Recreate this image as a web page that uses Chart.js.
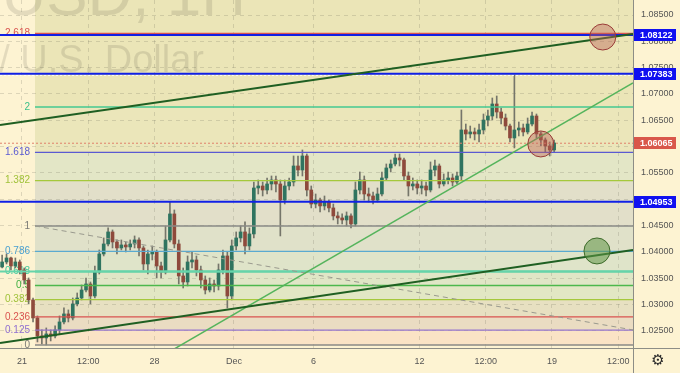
<!DOCTYPE html>
<html><head><meta charset="utf-8">
<script src="https://cdn.jsdelivr.net/npm/chart.js@4.4.0/dist/chart.umd.min.js"></script>
<style>
html,body{margin:0;padding:0;background:#fdf3d2;}
canvas{display:block;}
</style></head><body>
<canvas id="c" width="680" height="373"></canvas>
<script>
// ---------- DATA ----------
// 4h EUR/USD candles; x measured in trading days from Nov 21 00:00 (weekends collapsed)
const barHours = 4;
const firstBarIndex = -5;          // first bar = Nov 18 04:00
const firstOpen = 1.03715;
const closes = [
1.03810,1.03886,1.03734,1.03810,1.03658,
1.03468,1.03089,1.02747,1.02405,1.02367,1.02443,
1.02405,1.02519,1.02671,1.02823,1.02747,1.03013,
1.03126,1.03278,1.03392,1.03164,1.03620,1.03962,
1.04152,1.04380,1.04190,1.04076,1.04133,1.04095,
1.04152,1.04228,1.04076,1.03772,1.03962,1.04000,
1.03734,1.03620,1.04228,1.04722,1.04152,1.03544,
1.03430,1.03810,1.03848,1.03658,1.03468,1.03278,
1.03392,1.03354,1.03658,1.03924,1.03164,1.04114,
1.04266,1.04380,1.04114,1.04342,1.05215,1.05253,
1.05177,1.05291,1.05367,1.05291,1.04987,1.05253,
1.05329,1.05633,1.05557,1.05823,1.05177,1.04911,
1.04987,1.04874,1.04949,1.04836,1.04684,1.04646,
1.04608,1.04684,1.04532,1.05177,1.05367,1.05101,
1.05063,1.04987,1.05101,1.05405,1.05595,1.05671,
1.05785,1.05747,1.05443,1.05253,1.05291,1.05215,
1.05253,1.05177,1.05557,1.05633,1.05291,1.05367,
1.05405,1.05329,1.05443,1.06317,1.06241,1.06279,
1.06241,1.06317,1.06506,1.06582,1.06810,1.06658,
1.06544,1.06392,1.06165,1.06317,1.06354,1.06279,
1.06430,1.06582,1.06241,1.06127,1.06013,1.05937,
1.06070];
const highs = [
1.03943,1.03962,1.03905,1.03886,1.03848,
1.03696,1.03506,1.03126,1.02785,1.02519,1.02557,
1.02519,1.02595,1.02785,1.02937,1.02899,1.03126,
1.03221,1.03373,1.03506,1.03430,1.03734,1.04038,
1.04266,1.04456,1.04418,1.04228,1.04228,1.04190,
1.04228,1.04304,1.04266,1.04114,1.04038,1.04114,
1.04038,1.03810,1.04494,1.04949,1.04798,1.04228,
1.03696,1.03924,1.04000,1.03924,1.03734,1.03544,
1.03506,1.03468,1.03772,1.04038,1.04000,1.04228,
1.04380,1.04494,1.04570,1.04456,1.05329,1.05367,
1.05329,1.05405,1.05443,1.05443,1.05367,1.05367,
1.05405,1.05823,1.05823,1.05937,1.05861,1.05253,
1.05101,1.05025,1.05063,1.04987,1.04911,1.04760,
1.04722,1.04760,1.04722,1.05329,1.05519,1.05443,
1.05215,1.05139,1.05215,1.05519,1.05671,1.05747,
1.05861,1.05861,1.05785,1.05519,1.05405,1.05367,
1.05367,1.05329,1.05709,1.05747,1.05671,1.05481,
1.05519,1.05481,1.05519,1.06696,1.06430,1.06392,
1.06354,1.06430,1.06620,1.06696,1.06924,1.06962,
1.06734,1.06620,1.06430,1.07361,1.06468,1.06430,
1.06544,1.06658,1.06620,1.06279,1.06165,1.06089,
1.06127];
const lows = [
1.03696,1.03772,1.03658,1.03696,1.03582,
1.03392,1.03013,1.02671,1.02291,1.02253,1.02234,
1.02310,1.02367,1.02443,1.02633,1.02671,1.02709,
1.02975,1.03089,1.03240,1.03013,1.03126,1.03582,
1.03924,1.04114,1.04076,1.03962,1.04038,1.04000,
1.04038,1.04076,1.03924,1.03658,1.03582,1.03848,
1.03506,1.03506,1.03582,1.04190,1.04076,1.03392,
1.03316,1.03354,1.03696,1.03544,1.03316,1.03202,
1.03240,1.03240,1.03278,1.03582,1.02937,1.03089,
1.04038,1.04190,1.03962,1.04038,1.04266,1.05101,
1.05063,1.05101,1.05177,1.05139,1.04304,1.04911,
1.05177,1.05253,1.05443,1.05443,1.05063,1.04836,
1.04836,1.04760,1.04798,1.04760,1.04608,1.04532,
1.04532,1.04494,1.04456,1.04494,1.05101,1.04987,
1.04949,1.04911,1.04949,1.05063,1.05367,1.05519,
1.05633,1.05633,1.05367,1.05063,1.05177,1.05101,
1.05101,1.05063,1.05139,1.05443,1.05215,1.05253,
1.05291,1.05253,1.05291,1.05367,1.06127,1.06165,
1.06127,1.06089,1.06241,1.06392,1.06506,1.06544,
1.06430,1.06317,1.06089,1.05975,1.06203,1.06203,
1.06241,1.06392,1.06165,1.06013,1.05899,1.05823,
1.05899];

const xMin = -0.83, xMax = 23.06;
const xTickPos = [0, 2.5, 5, 8, 11, 15, 17.5, 20, 22.5];
const xTickLabels = ['21', '12:00', '28', 'Dec', '6', '12', '12:00', '19', '12:00'];
const yMin = 1.02176, yMax = 1.08785;
const yTicks = [1.025, 1.030, 1.035, 1.040, 1.045, 1.050, 1.055, 1.060, 1.065, 1.070, 1.075, 1.080, 1.085];

// Fibonacci drawing
const fibLow = 1.02233, fibHigh = 1.04493, fibStart = 0.49;
const fibRatios = [0, 0.125, 0.236, 0.382, 0.5, 0.618, 0.786, 1, 1.382, 1.618, 2, 2.618];
const fibLabels = ['0', '0.125', '0.236', '0.382', '0.5', '0.618', '0.786', '1', '1.382', '1.618', '2', '2.618'];

// Horizontal levels
const blueLevels = [1.08122, 1.07383, 1.04953];
const lastPrice = 1.06065;
const highMark = 1.07355;

// Trend lines [x (trading days), price]
const upperTrend = [[-0.83, 1.06412], [23.06, 1.08139]];
const lowerTrend = [[-0.83, 1.02272], [23.06, 1.04038]];
const riseTrend  = [[5.585, 1.02111], [23.06, 1.07209]];
const fibDiagonal = [[0.49, 1.04494], [23.06, 1.02519]];

// Circle markers [x, price]
const redMarks = [[21.92, 1.08082], [19.58, 1.06051]];
const greenMarks = [[21.70, 1.04019]];

// ---------- STYLE ----------
const FONT = '"Liberation Sans", Arial, sans-serif';
const fibColors = ['#8a8a86','#9575cd','#d9534f','#a5c83c','#4cb84c','#55cfa0','#5aaad0','#8a8a86','#a5c83c','#5a5ad2','#45c890','#d9534f'];
const fibTextColors = ['#7a7a76','#8f6fd0','#d9534f','#a0c23a','#3fae3f','#3fc89c','#4aa0d0','#7a7a76','#a0c23a','#5a5ad2','#3cc08a','#d9534f'];
const bandColors = ['#fae3c5','#eadcc2','#e7e0c1','#e2e7c4','#e0e6c6','#dfe4c9','#e0e1c9','#e2dfc9','#e3e6c6','#ebe6ba','#ebe5b7','#ebe5b7'];

// ---------- BUILD ----------
const fibValue = r => fibLow + r * (fibHigh - fibLow);
const tOf = i => (firstBarIndex + i + 0.5) * barHours / 24;
const opens = closes.map((c, i) => i === 0 ? firstOpen : closes[i - 1]);

const datasets = [];
fibRatios.forEach((r, i) => {
  const v = fibValue(r);
  datasets.push({
    type: 'line', order: 5,
    data: [{x: fibStart, y: v}, {x: xMax, y: v}],
    borderColor: fibColors[i], borderWidth: r === 0.618 ? 2 : 1.3,
    pointRadius: 0,
    fill: i < fibRatios.length - 1 ? '+1' : 'end',
    backgroundColor: bandColors[i]
  });
});
const lineDs = (pts, color, width, dash, order) => ({
  type: 'line', order: order, data: pts.map(p => ({x: p[0], y: p[1]})),
  borderColor: color, borderWidth: width, borderDash: dash || [], pointRadius: 0, fill: false
});
// full-width 0.618 ray
datasets.push(lineDs([[xMin, fibValue(0.618)], [xMax, fibValue(0.618)]], '#66d4aa', 2, null, 4));
// candles
datasets.push({
  type: 'bar', order: 11, grouped: false, barThickness: 1,
  data: closes.map((c, i) => ({x: tOf(i), y: [lows[i], highs[i]]})),
  backgroundColor: '#75756a', borderWidth: 0
});
datasets.push({
  type: 'bar', order: 10, grouped: false, barThickness: 3, minBarLength: 1,
  data: closes.map((c, i) => ({x: tOf(i), y: [opens[i], c]})),
  backgroundColor: closes.map((c, i) => c >= opens[i] ? '#2f7460' : '#8e4a3c'), borderWidth: 0
});
blueLevels.forEach(v => datasets.push(lineDs([[xMin, v], [xMax, v]], '#1020e6', 2, null, 3)));
datasets.push(lineDs([[xMin, lastPrice], [xMax, lastPrice]], '#e0806a', 1, [2, 2], 3));
datasets.push(lineDs([[xMin, highMark], [xMax, highMark]], 'rgba(255,255,255,0.95)', 1, [2, 2], 3));
datasets.push(lineDs(upperTrend, '#1f5f22', 2, null, 2));
datasets.push(lineDs(lowerTrend, '#1f5f22', 2, null, 2));
datasets.push(lineDs(riseTrend, '#55b45c', 1.5, null, 2));
datasets.push(lineDs(fibDiagonal, '#9a9a8e', 1, [5, 4], 2));
datasets.push({
  type: 'bubble', order: 0,
  data: redMarks.map(p => ({x: p[0], y: p[1], r: 13})),
  backgroundColor: 'rgba(185,95,85,0.42)', borderColor: '#9a3c38', borderWidth: 1
});
datasets.push({
  type: 'bubble', order: 0,
  data: greenMarks.map(p => ({x: p[0], y: p[1], r: 13})),
  backgroundColor: 'rgba(95,150,70,0.55)', borderColor: '#3d6b2a', borderWidth: 1
});

const decorations = {
  id: 'decorations',
  beforeDatasetsDraw(chart) {
    const {ctx, scales: {y}} = chart;
    ctx.save();
    // watermark (centred TradingView-style, mostly outside the crop)
    ctx.fillStyle = 'rgba(0,0,0,0.10)';
    ctx.textAlign = 'right';
    ctx.textBaseline = 'alphabetic';
    ctx.font = '62px ' + FONT;
    ctx.fillText('EURUSD, 1H', 246, 15);
    ctx.font = '38px ' + FONT;
    ctx.fillText('Euro / U.S. Dollar', 204, 72);
    // fib labels
    ctx.font = '10px ' + FONT;
    ctx.textBaseline = 'middle';
    fibRatios.forEach((r, i) => {
      ctx.fillStyle = fibTextColors[i];
      ctx.fillText(fibLabels[i], 30, y.getPixelForValue(fibValue(r)));
    });
    ctx.restore();
  },
  afterDraw(chart) {
    const {ctx, chartArea: a, scales: {y}} = chart;
    ctx.save();
    ctx.strokeStyle = '#8d8d86';
    ctx.lineWidth = 1;
    ctx.beginPath();
    ctx.moveTo(Math.round(a.right) + 0.5, 0); ctx.lineTo(Math.round(a.right) + 0.5, 373);
    ctx.moveTo(0, Math.round(a.bottom) + 0.5); ctx.lineTo(680, Math.round(a.bottom) + 0.5);
    ctx.stroke();
    const tag = (v, color) => {
      const py = y.getPixelForValue(v);
      ctx.fillStyle = color;
      ctx.fillRect(a.right + 1, Math.round(py) - 6, 42, 12);
      ctx.fillStyle = '#ffffff';
      ctx.font = 'bold 9px ' + FONT;
      ctx.textAlign = 'left';
      ctx.textBaseline = 'middle';
      ctx.fillText(v.toFixed(5), a.right + 7, Math.round(py) + 0.5);
    };
    blueLevels.forEach(v => tag(v, '#1010f0'));
    tag(lastPrice, '#d9574a');
    ctx.fillStyle = '#2a2a2a';
    ctx.font = '15px "DejaVu Sans"';
    ctx.textAlign = 'center';
    ctx.textBaseline = 'middle';
    ctx.fillText('\u2699', 658, 361);
    ctx.restore();
  }
};

new Chart(document.getElementById('c'), {
  type: 'bar',
  data: {datasets},
  options: {
    responsive: false, animation: false, devicePixelRatio: 1,
    layout: {padding: 0, autoPadding: false},
    plugins: {legend: {display: false}, tooltip: {enabled: false},
      filler: {drawTime: 'beforeDraw', propagate: false}},
    scales: {
      x: {
        type: 'linear', position: 'bottom', min: xMin, max: xMax, offset: false,
        grid: {color: 'rgba(110,110,90,0.22)', drawTicks: false, offset: false},
        border: {display: false, dash: [4, 4]},
        ticks: {padding: 8, color: '#555', font: {size: 9, family: FONT}, maxRotation: 0, autoSkip: false,
          callback: (v, i) => xTickLabels[i]},
        afterBuildTicks: s => { s.ticks = xTickPos.map(v => ({value: v})); },
        afterFit: s => { s.height = 25; s.paddingLeft = 0; s.paddingRight = 0; }
      },
      y: {
        type: 'linear', position: 'right', min: yMin, max: yMax,
        grid: {color: 'rgba(110,110,90,0.22)', drawTicks: false},
        border: {display: false, dash: [4, 4]},
        ticks: {padding: 8, color: '#555', font: {size: 9, family: FONT},
          callback: v => Number(v).toFixed(5)},
        afterBuildTicks: s => { s.ticks = yTicks.map(v => ({value: v})); },
        afterFit: s => { s.width = 47; s.paddingTop = 0; s.paddingBottom = 0; }
      }
    }
  },
  plugins: [decorations]
});
</script></body></html>
